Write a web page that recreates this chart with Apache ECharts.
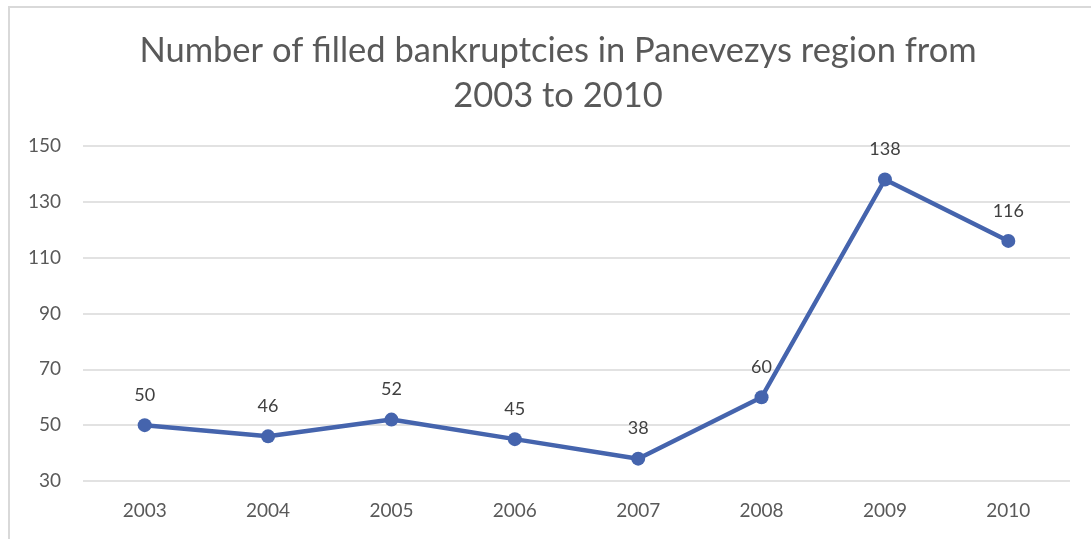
<!DOCTYPE html>
<html>
<head>
<meta charset="utf-8">
<script src="https://cdn.jsdelivr.net/npm/echarts@6/dist/echarts.min.js"></script>
<style>
  html, body { margin: 0; padding: 0; background: #ffffff; }
  #frame { position: absolute; left: 8px; top: 6px; width: 1090px; height: 540px;
           border-left: 2px solid #d9d9d9; border-top: 2px solid #d9d9d9; box-sizing: border-box; }
  #chart { position: absolute; left: 0; top: 0; width: 1091px; height: 539px; }
</style>
</head>
<body>
<div id="frame"></div>
<div id="chart"></div>
<script>
// Filed bankruptcies per year, Panevezys region
const years = ['2003', '2004', '2005', '2006', '2007', '2008', '2009', '2010'];
const bankruptcies = [50, 46, 52, 45, 38, 60, 138, 116];
const titleLines = ['Number of filled bankruptcies in Panevezys region from', '2003 to 2010'];

const FONT = 'Lato, "Open Sans", sans-serif';
const GREY = '#595959';

const chart = echarts.init(document.getElementById('chart'), null, { renderer: 'canvas' });
chart.setOption({
  animation: false,
  backgroundColor: 'transparent',
  title: {
    text: titleLines.join('\n'),
    left: 553,
    textAlign: 'center',
    top: 23,
    textStyle: { fontFamily: FONT, fontSize: 34.5, fontWeight: 'normal', color: GREY, lineHeight: 45 }
  },
  grid: { left: 83, right: 21, top: 146, bottom: 58, containLabel: false },
  xAxis: {
    type: 'category',
    data: years,
    boundaryGap: true,
    axisLine: { show: false },
    axisTick: { show: false },
    axisLabel: { fontFamily: FONT, fontSize: 19, color: GREY, margin: 20 }
  },
  yAxis: {
    type: 'value',
    min: 30,
    max: 150,
    interval: 20,
    axisLine: { show: false },
    axisTick: { show: false },
    axisLabel: { fontFamily: FONT, fontSize: 19, color: GREY, margin: 22 },
    splitLine: { lineStyle: { color: '#d9d9d9', width: 1.5 } }
  },
  series: [{
    type: 'line',
    data: bankruptcies,
    symbol: 'circle',
    symbolSize: 14,
    lineStyle: { color: '#4564ad', width: 4.5 },
    itemStyle: { color: '#4564ad' },
    label: {
      show: true,
      position: 'top',
      distance: 14,
      fontFamily: FONT,
      fontSize: 18,
      color: '#404040'
    }
  }]
});
</script>
</body>
</html>
